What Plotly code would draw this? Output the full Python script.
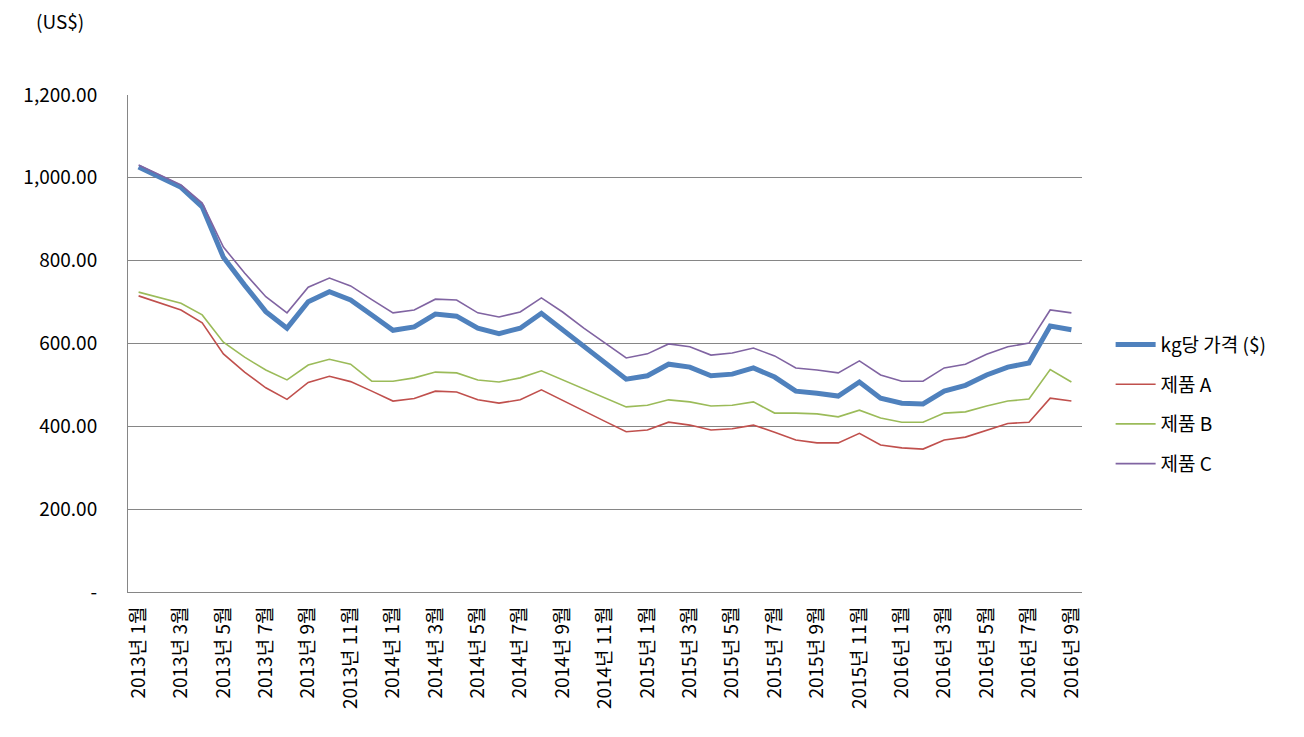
import plotly.graph_objects as go

months = [f"{y}년 {m}월" for y in (2013, 2014, 2015, 2016) for m in range(1, 13)][:45]

price = [1026, 1002, 977, 930, 808, 741, 677, 637, 701, 725, 705, 669, 632, 640, 671, 666,
         637, 624, 637, 673, 633, 592, 552, 514, 522, 550, 543, 522, 526, 541,
         519, 485, 480, 473, 507, 468, 456, 454, 485, 499, 524, 543, 553, 642, 633]
prod_a = [715, 698, 681, 650, 575, 531, 493, 465, 506, 521, 508, 485, 461, 467, 485, 483,
          464, 456, 464, 488, 462, 437, 412, 387, 391, 410, 403, 391, 394, 403,
          386, 367, 360, 360, 383, 355, 348, 345, 367, 374, 391, 407, 410, 468, 461]
prod_b = [724, 710, 697, 669, 603, 567, 536, 512, 548, 562, 550, 509, 509, 517, 531, 529,
          512, 507, 517, 534, 512, 490, 468, 447, 451, 464, 459, 449, 451, 459,
          432, 432, 430, 423, 439, 420, 410, 410, 432, 435, 449, 461, 466, 537, 507]
prod_c = [1031, 1007, 983, 939, 833, 770, 713, 674, 736, 758, 739, 706, 674, 681, 707, 705,
          674, 664, 676, 710, 676, 637, 601, 565, 575, 599, 592, 572, 577, 589,
          570, 541, 536, 529, 558, 524, 509, 509, 541, 550, 574, 592, 601, 681, 674]

series = [
    ("kg당 가격 ($)", price, "#4F81BD", 5),
    ("제품 A", prod_a, "#C0504D", 1.6),
    ("제품 B", prod_b, "#9BBB59", 1.6),
    ("제품 C", prod_c, "#8064A2", 1.6),
]

y_ticks = [0, 200, 400, 600, 800, 1000, 1200]
y_text = ["-", "200.00", "400.00", "600.00", "800.00", "1,000.00", "1,200.00"]

fig = go.Figure()
for i, (name, vals, color, w) in enumerate(series):
    fig.add_trace(go.Scatter(x=months, y=vals, name=name, mode="lines",
                             line=dict(color=color, width=w), legendgroup=f"g{i}"))

font = "Noto Sans CJK KR"
fs = 19
fig.update_layout(
    width=1304, height=737,
    margin=dict(l=128, r=222, t=95, b=145),
    paper_bgcolor="white", plot_bgcolor="white",
    font=dict(family=font, size=fs, color="black"),
    showlegend=True,
    legend=dict(x=1.03, xanchor="left", y=0.378, yanchor="middle",
                font=dict(size=fs), tracegroupgap=12, itemwidth=40),
    xaxis=dict(type="category", range=[-0.5, 44.5],
               tickvals=months[::2], ticktext=months[::2], tickangle=-90,
               showgrid=False, showline=True, linecolor="#868686", linewidth=1,
               ticks="", tickfont=dict(size=fs), ticklabelstandoff=6),
    yaxis=dict(range=[0, 1200], tickvals=y_ticks, ticktext=y_text,
               showgrid=True, gridcolor="#868686", gridwidth=1,
               showline=True, linecolor="#868686", linewidth=1,
               zeroline=False, ticks="", tickfont=dict(size=fs),
               ticklabelstandoff=26),
    annotations=[dict(text="(US$)", x=(60 - 128) / 954, y=(592 - 20) / 497,
                      xref="paper", yref="paper", xanchor="center", yanchor="middle",
                      showarrow=False, font=dict(size=fs))],
)

fig.write_html("out.html")
